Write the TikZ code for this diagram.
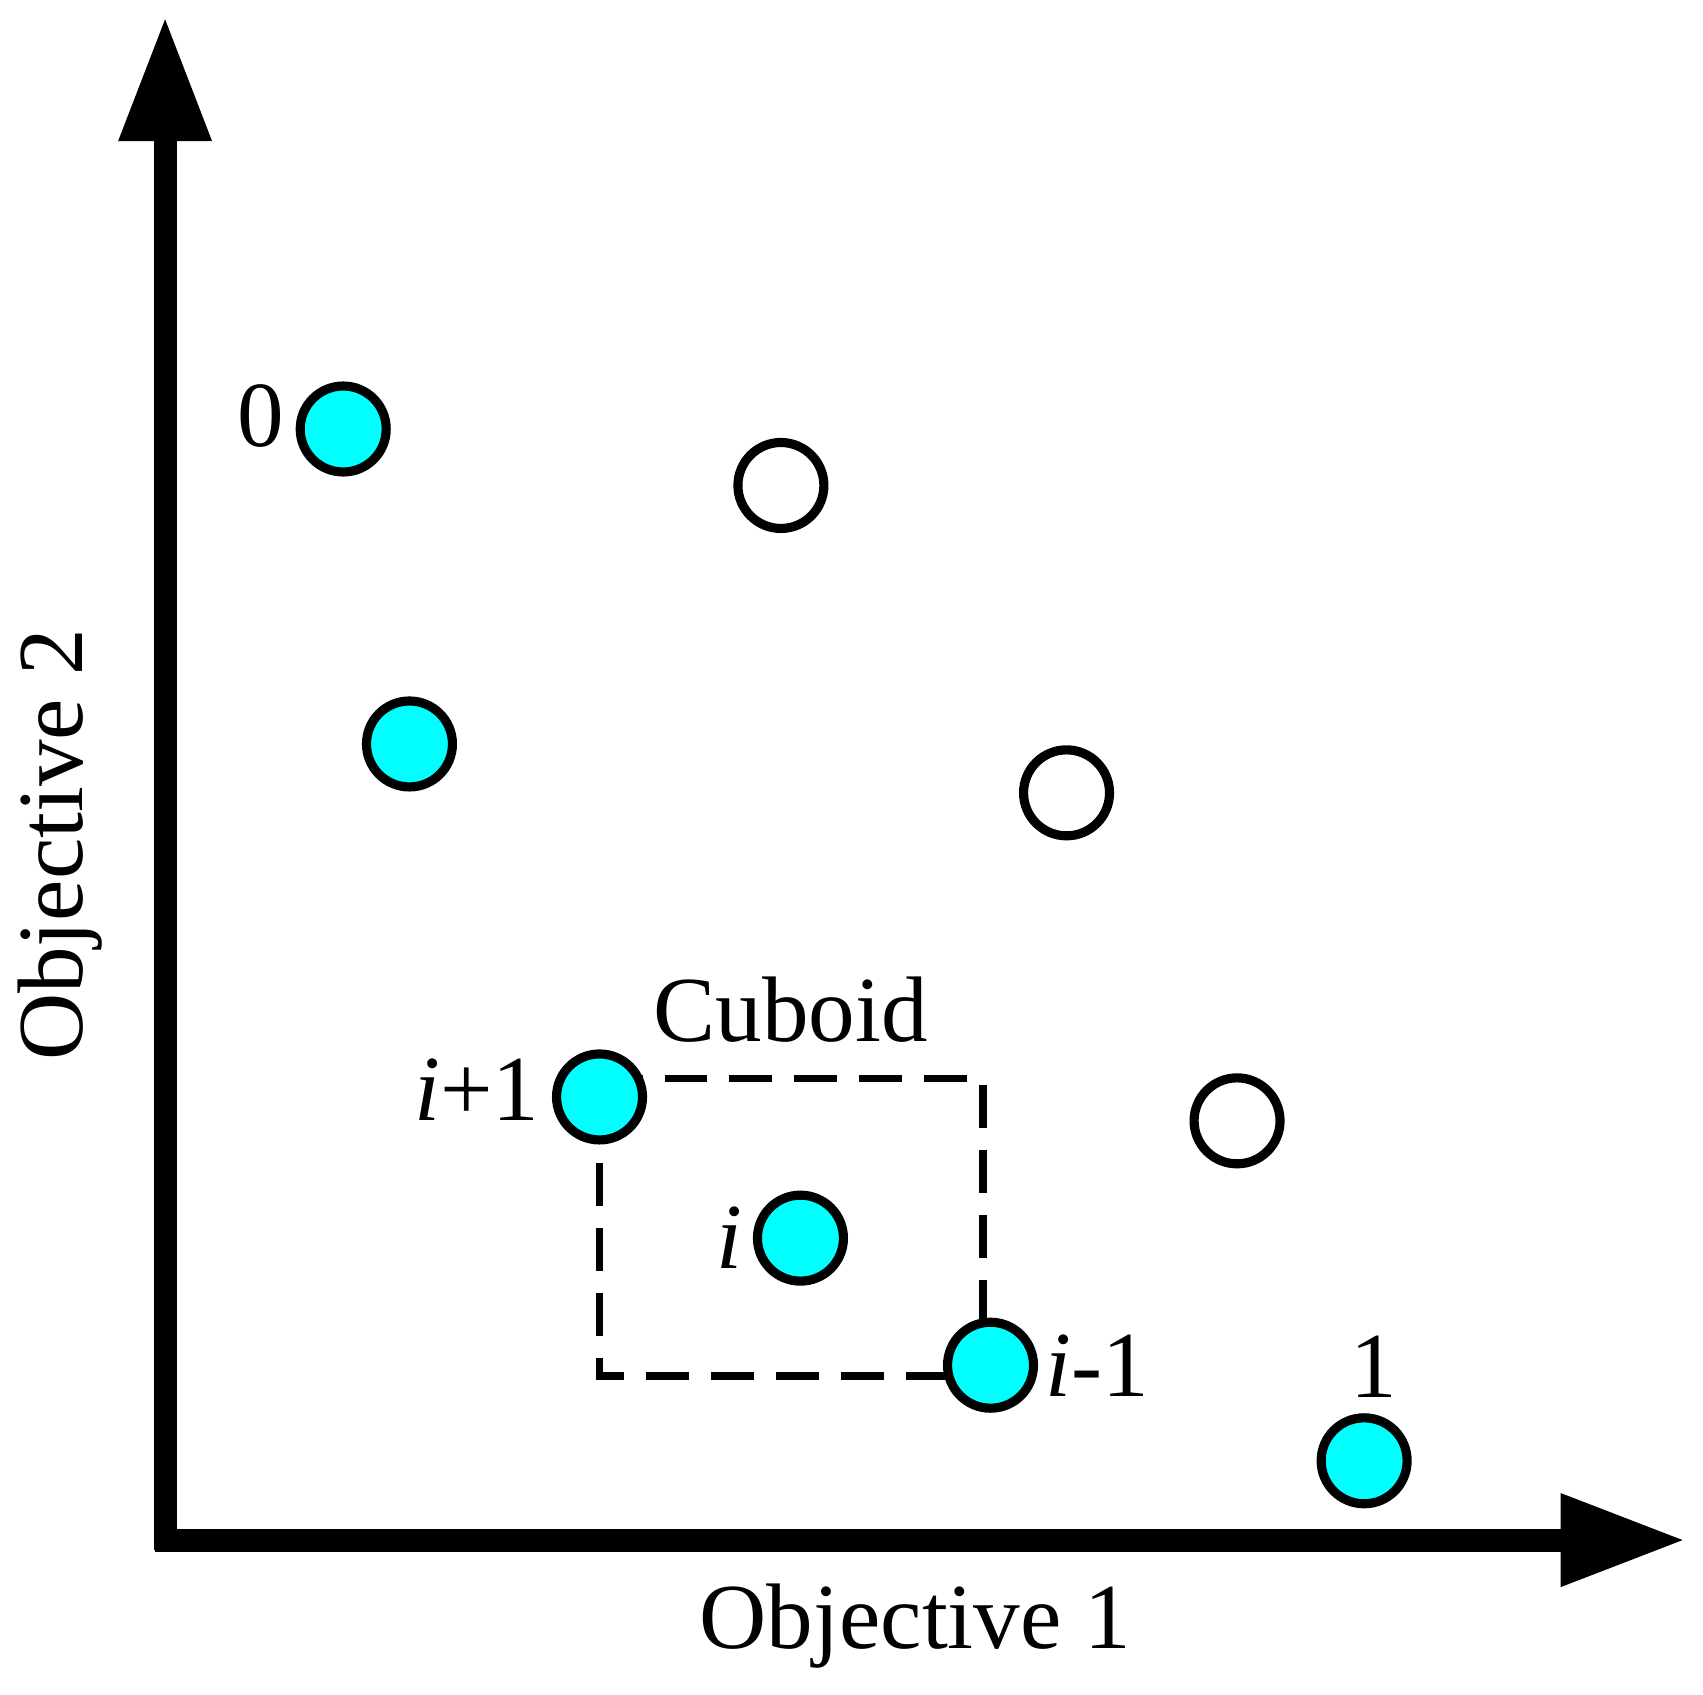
\documentclass[tikz,border=0pt]{standalone}
\usepackage{fontspec}
\setmainfont{Liberation Serif}
\usetikzlibrary{arrows.meta}
\definecolor{aqua}{RGB}{0,255,255}
\begin{document}
\begin{tikzpicture}[x=0.01086cm,y=-0.01086cm,
  pt/.style={circle,draw=black,line width=2.6pt,inner sep=0pt,minimum size=0.86cm},
  sel/.style={pt,fill=aqua},
  emp/.style={pt,fill=white},
  lab/.style={font=\fontsize{26.5}{28}\selectfont,inner sep=0pt},
  axis/.style={line width=6.5pt,-{Triangle[length=1.25cm,width=0.87cm]}}]
\useasboundingbox (0,0) rectangle (1568,1560);
\coordinate (ytop) at (152,15);
\coordinate (xend) at (1552,1418);
\draw[axis] (152,1427) -- (ytop);
\draw[axis] (143,1418) -- (xend);
\coordinate (r1) at (552,993);
\coordinate (r2) at (905,993);
\coordinate (r3) at (905,1267);
\coordinate (r4) at (552,1267);
\draw[line width=2.2pt,dash pattern=on 0.43cm off 0.22cm] (r1) -- (r2) -- (r3) -- (r4) -- cycle;
\node[sel] (p0) at (316,395) {};
\node[sel] (p2) at (377,685) {};
\node[sel] (pip) at (552,1010) {};
\node[sel] (pi) at (737,1140) {};
\node[sel] (pim) at (912,1257) {};
\node[sel] (p1) at (1256,1345) {};
\node[emp] (w1) at (719,447) {};
\node[emp] (w2) at (982,730) {};
\node[emp] (w3) at (1139,1032) {};
\node[lab] (l0) at (240,383) {0};
\node[lab,anchor=east] (lip) at (497,1003) {\textit{i}+1};
\node[lab,anchor=east] (li) at (684,1140) {\textit{i}};
\node[lab,anchor=west] (lim) at (962,1257) {\textit{i}-1};
\node[lab] (l1) at (1265,1258) {1};
\node[lab] (cub) at (728,930) {Cuboid};
\node[lab] (ox) at (843,1497) {Objective 1};
\node[lab,rotate=90] (oy) at (55,778) {Objective 2};
\end{tikzpicture}
\end{document}
